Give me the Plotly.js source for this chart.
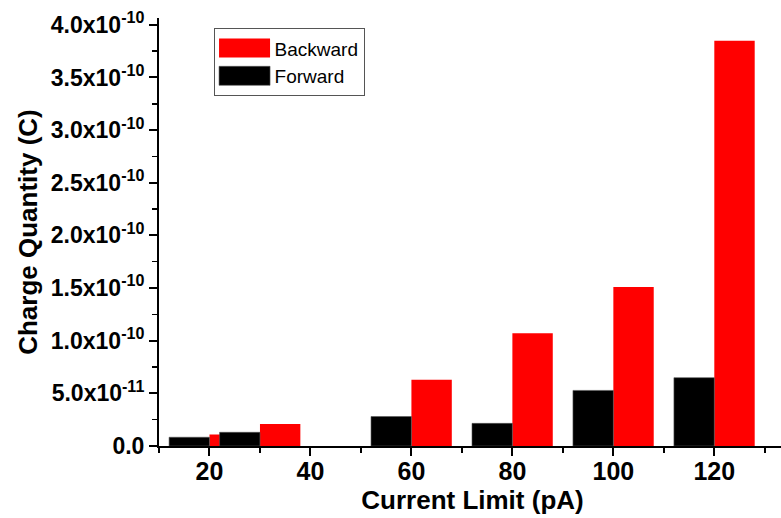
<!DOCTYPE html>
<html>
<head>
<meta charset="utf-8">
<script src="https://cdn.plot.ly/plotly-3.0.1.min.js"></script>
<style>
html, body { margin: 0; padding: 0; overflow: hidden; background: #fff; }
#chart { width: 800px; height: 518px; }
</style>
</head>
<body>
<div id="chart"></div>
<script>
// Data
const currentLimit = [20, 30, 60, 80, 100, 120];            // pA
const backward = [1.1e-11, 2.1e-11, 6.3e-11, 1.07e-10, 1.51e-10, 3.85e-10]; // C
const forward  = [8.3e-12, 1.3e-11, 2.8e-11, 2.15e-11, 5.28e-11, 6.49e-11];  // C

const yTickVals = [0, 5e-11, 1e-10, 1.5e-10, 2e-10, 2.5e-10, 3e-10, 3.5e-10, 4e-10];
const yTickText = ['0.0', '5.0x10<sup>-11</sup>', '1.0x10<sup>-10</sup>', '1.5x10<sup>-10</sup>',
  '2.0x10<sup>-10</sup>', '2.5x10<sup>-10</sup>', '3.0x10<sup>-10</sup>', '3.5x10<sup>-10</sup>',
  '4.0x10<sup>-10</sup>'];

const FONT = 'Liberation Sans, Arial, sans-serif';
const xRange = [10, 134.2];
const yRange = [0, 4.065e-10];

const traces = [
  {
    type: 'bar', name: 'Backward', x: currentLimit, y: backward,
    offset: 0, width: 8,
    marker: { color: '#ff0000', line: { width: 0 } },
    legendgroup: 'b'
  },
  {
    type: 'bar', name: 'Forward', x: currentLimit, y: forward,
    offset: -8, width: 8,
    marker: { color: '#000000', line: { width: 0.6, color: '#555' } },
    legendgroup: 'f'
  }
];

const axCommon = {
  showgrid: false, zeroline: false, showline: true, linecolor: '#000', linewidth: 2,
  tickcolor: '#000', tickwidth: 2
};

const layout = {
  width: 800, height: 518,
  margin: { l: 159, r: 14, t: 18, b: 71.5 },
  paper_bgcolor: '#fff', plot_bgcolor: '#fff',
  barmode: 'overlay',
  showlegend: true,
  legend: {
    x: 0.087, y: 0.976, xanchor: 'left', yanchor: 'top',
    bordercolor: '#555', borderwidth: 1, bgcolor: '#fff',
    font: { family: FONT, size: 19, color: '#000' },
    itemwidth: 50, tracegroupgap: 0, traceorder: 'normal'
  },
  xaxis: Object.assign({}, axCommon, {
    range: xRange, tickmode: 'linear', tick0: 0, dtick: 20,
    ticks: 'outside', ticklen: 8, ticklabelstandoff: -6,
    minor: { tick0: 0, dtick: 10, ticks: 'outside', ticklen: 5, tickcolor: '#000', tickwidth: 1.5 },
    tickfont: { family: FONT, size: 25, weight: 'bold', color: '#000' },
    title: { text: 'Current Limit (pA)', standoff: 4,
      font: { family: FONT, size: 26, weight: 'bold', color: '#000' } }
  }),
  yaxis: Object.assign({}, axCommon, {
    range: yRange, tickmode: 'array', tickvals: yTickVals, ticktext: yTickText,
    ticks: 'outside', ticklen: 8,
    minor: { tick0: 0, dtick: 2.5e-11, ticks: 'outside', ticklen: 5, tickcolor: '#000', tickwidth: 1.5 },
    tickfont: { family: FONT, size: 23, weight: 'bold', color: '#000' },
    title: { text: 'Charge Quantity (C)', standoff: 6,
      font: { family: FONT, size: 26, weight: 'bold', color: '#000' } }
  }),
  xaxis2: Object.assign({}, axCommon, {
    overlaying: 'x', side: 'top', anchor: 'y2', range: xRange, tickmode: 'linear', tick0: 0, dtick: 20,
    ticks: 'inside', ticklen: 8, showticklabels: false,
    minor: { tick0: 0, dtick: 10, ticks: 'inside', ticklen: 5, tickcolor: '#000', tickwidth: 1.5 }
  }),
  yaxis2: Object.assign({}, axCommon, {
    overlaying: 'y', side: 'right', anchor: 'x2', range: yRange, tickmode: 'array', tickvals: yTickVals,
    ticks: 'inside', ticklen: 8, showticklabels: false,
    minor: { tick0: 0, dtick: 2.5e-11, ticks: 'inside', ticklen: 5, tickcolor: '#000', tickwidth: 1.5 }
  })
};

Plotly.newPlot('chart', traces, layout, { staticPlot: true, displayModeBar: false }).then(function (gd) {
  // widen legend swatches to match the reference's wide rectangles
  gd.querySelectorAll('.legend .legendpoints path').forEach(function (p) {
    p.setAttribute('d', 'M25.5,9.5H-25.5V-9.5H25.5Z');
  });
});
</script>
</body>
</html>
